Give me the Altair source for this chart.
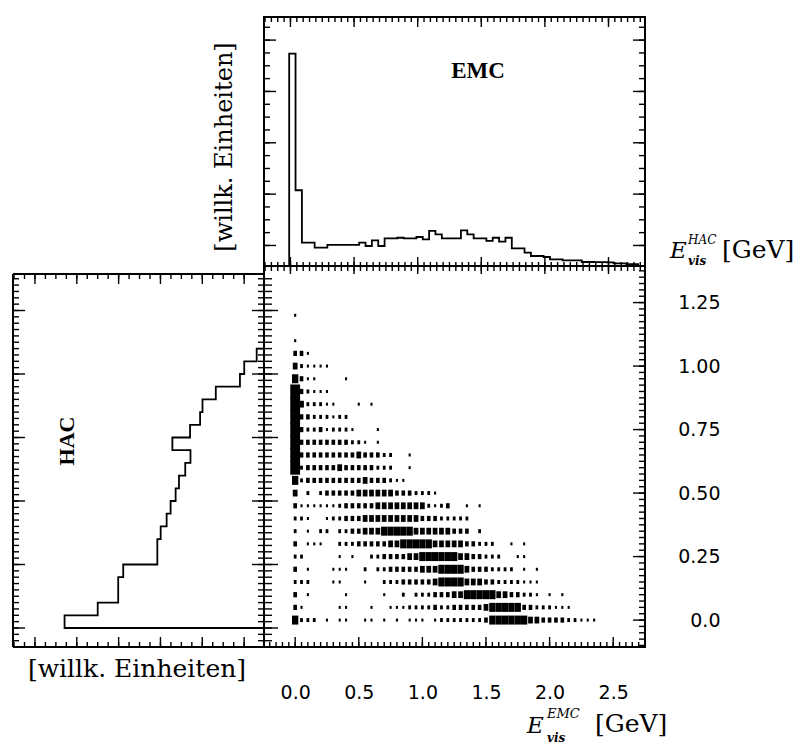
import altair as alt
import pandas as pd

# ---------------- data ----------------
# EMC histogram (top panel): arbitrary units, 0.05 GeV bins, first bin starts at -0.01 GeV
emc_first_edge = -0.01
emc_bin_width = 0.05
emc_counts = [16.55, 5.9, 1.82, 1.82, 1.43, 1.43, 1.64, 1.64, 1.64, 1.64,
              1.64, 1.82, 1.56, 2.0, 1.56, 2.16, 2.16, 2.2, 2.16, 2.16,
              2.26, 2.08, 2.73, 2.47, 2.16, 2.16, 2.16, 2.78, 2.47, 2.16,
              2.16, 1.95, 2.2, 1.9, 2.2, 1.38, 1.38, 1.04, 0.78, 0.78,
              0.7, 0.52, 0.52, 0.44, 0.44, 0.44, 0.31, 0.31, 0.3, 0.3,
              0.28, 0.2, 0.2, 0.15, 0.15]

# HAC histogram (left panel): arbitrary units, 0.05 GeV bins starting at 0
hac_bin_width = 0.05
hac_counts = [19.07, 15.9, 13.94, 13.94, 13.46, 10.2, 10.2, 9.88, 9.31, 8.93,
              8.45, 8.13, 7.53, 7.03, 8.76, 7.07, 6.11, 5.88, 4.61, 2.3, 1.89, 0.7]

# 2D distribution: one string per E_HAC row (0.00, 0.05, ... GeV),
# one character per E_EMC column (0.00, 0.05, ... GeV), digit = box size class
grid_step = 0.05
scatter_rows = [
    "5222010110" "0110101011" "1012222222" "3555555443" "33322111",  # 0.00
    "3100000110" "0010011122" "2232233333" "4555553322" "21110000",  # 0.05
    "3010000010" "0000100202" "2233344555" "5544332210" "10100000",  # 0.10
    "2220001100" "0100222333" "3345555444" "3322221110",             # 0.15
    "3010001110" "0202233333" "4445555433" "3222201010",             # 0.20
    "2200000101" "0022333344" "5555554433" "2220011000",             # 0.25
    "3011100222" "3333344555" "5544444332" "2200101000",             # 0.30
    "2010220223" "3444555554" "4444433302",                          # 0.35
    "2210012233" "3444444444" "3332222200",                          # 0.40
    "3111111233" "3334444444" "4212300101",                          # 0.45
    "4020233333" "4444443332" "221",                                 # 0.50
    "5233333333" "34333211",                                         # 0.55
    "6233333433" "3332220010",                                       # 0.60
    "6333333333" "4333220010",                                       # 0.65
    "6333333332" "2101",                                             # 0.70
    "6322312221" "0001",                                             # 0.75
    "633222122",                                                     # 0.80
    "6422211000" "101",                                              # 0.85
    "632111",                                                        # 0.90
    "531100001",                                                     # 0.95
    "421111",                                                        # 1.00
    "331",                                                           # 1.05
    "1",                                                             # 1.10
    "",                                                              # 1.15
    "1",                                                             # 1.20
]

x_labels = [0.0, 0.5, 1.0, 1.5, 2.0, 2.5]
y_labels = [0.0, 0.25, 0.5, 0.75, 1.0, 1.25]

# ---------------- tables ----------------
def frange(a, b, step):
    n = int(round((b - a) / step))
    return [round(a + i * step, 4) for i in range(n + 1)]

emc_pts = [{"x": emc_first_edge, "c": 0.0, "i": 0}]
for k, c in enumerate(emc_counts):
    emc_pts.append({"x": round(emc_first_edge + k * emc_bin_width, 4), "c": c, "i": k + 1})
emc_pts.append({"x": round(emc_first_edge + len(emc_counts) * emc_bin_width, 4),
                "c": emc_counts[-1], "i": len(emc_counts) + 1})
emc_df = pd.DataFrame(emc_pts)

hac_pts = [{"c": 0.0, "y": 0.0, "i": 0}]
for k, c in enumerate(hac_counts):
    hac_pts.append({"c": c, "y": round(k * hac_bin_width, 4), "i": k + 1})
hac_pts.append({"c": 0.0, "y": round(len(hac_counts) * hac_bin_width, 4), "i": len(hac_counts) + 1})
hac_df = pd.DataFrame(hac_pts)

recs = []
for r, row in enumerate(scatter_rows):
    for col, ch in enumerate(row):
        if ch != "0":
            recs.append({"x": round(col * grid_step, 4), "y": round(r * grid_step, 4), "s": int(ch)})
scat_df = pd.DataFrame(recs)

one = pd.DataFrame({"a": [0]})
BLACK = "black"
TW = 1.4  # tick width

def hticks(values, enc_x, y0, y1, width=TW):
    return alt.Chart(pd.DataFrame({"x": values})).mark_rule(color=BLACK, strokeWidth=width).encode(
        x=enc_x, y=alt.value(y0), y2=alt.value(y1))

def vticks(values, enc_y, x0, x1, width=TW):
    return alt.Chart(pd.DataFrame({"y": values})).mark_rule(color=BLACK, strokeWidth=width).encode(
        y=enc_y, x=alt.value(x0), x2=alt.value(x1))

def label(text, x, y, size, font="DejaVu Serif", style="normal", weight="normal", angle=0,
          align="left", baseline="alphabetic"):
    return alt.Chart(one).mark_text(text=text, font=font, fontSize=size, fontStyle=style,
                                    fontWeight=weight, angle=angle, align=align, baseline=baseline,
                                    color=BLACK).encode(x=alt.value(x), y=alt.value(y))

def seg(x0, y0, x1, y1, width=2):
    return alt.Chart(one).mark_rule(color=BLACK, strokeWidth=width).encode(
        x=alt.value(x0), y=alt.value(y0), x2=alt.value(x1), y2=alt.value(y1))

# ---------------- main panel ----------------
MW, MH = 381, 381
sx_main = alt.Scale(domain=[-0.245, 2.75], nice=False, zero=False)
sy_main = alt.Scale(domain=[-0.106, 1.394], nice=False, zero=False)
x_axis = alt.Axis(values=x_labels, format=".1f", ticks=False, tickSize=0, domain=False, grid=False,
                  labelFont="DejaVu Sans", labelFontSize=19, labelColor=BLACK, labelPadding=36,
                  labelFlush=False, labelOverlap=False, title=None)
y_axis = alt.Axis(orient="right", values=y_labels, ticks=False, tickSize=0, domain=False, grid=False,
                  labelExpr="datum.value == 0 ? '0.0' : format(datum.value, '.2f')",
                  labelFont="DejaVu Sans", labelFontSize=19, labelColor=BLACK, labelPadding=75,
                  labelAlign="right", labelBaseline="middle", labelOverlap=False, labelFlush=False,
                  title=None)
XM = alt.X("x:Q", scale=sx_main, axis=x_axis)
YM = alt.Y("y:Q", scale=sy_main, axis=y_axis)

BOX = "M-0.7,-1H0.7V1H-0.7Z"
scatter = alt.Chart(scat_df).mark_point(shape=BOX, filled=True, color=BLACK, opacity=1, strokeWidth=0).encode(
    x=XM, y=YM,
    size=alt.Size("s:Q", scale=alt.Scale(domain=[1, 2, 3, 4, 5, 6], range=[9, 16, 27, 46, 81, 196]),
                  legend=None),
)

main = alt.layer(
    scatter,
    hticks(frange(-0.2, 2.7, 0.05), XM, MH, MH - 5),
    hticks(x_labels, XM, MH, MH - 10),
    vticks(frange(-0.1, 1.375, 0.025), YM, MW, MW - 6),
    vticks(y_labels, YM, MW, MW - 12),
    # x title: E^EMC_vis [GeV]
    label("E", 263, 467, 23, style="italic"),
    label("EMC", 283, 452, 13, style="italic"),
    label("vis", 283, 476, 12, style="italic", weight="bold"),
    label("[GeV]", 331, 466, 25),
    # y title: E^HAC_vis [GeV]
    label("E", 406, -8, 23, style="italic"),
    label("HAC", 424, -22, 12, style="italic"),
    label("vis", 424, -1, 12, style="italic", weight="bold"),
    label("[GeV]", 458, -8, 25),
).properties(width=MW, height=MH)

# ---------------- top histogram (EMC) ----------------
TWD, THT = 381, 249
XT = alt.X("x:Q", scale=alt.Scale(domain=[-0.208, 2.787], nice=False, zero=False), axis=None)
YT = alt.Y("c:Q", scale=alt.Scale(domain=[0, 19.4], nice=False, zero=False), axis=None)
emc_line = alt.Chart(emc_df).mark_line(interpolate="step-after", color=BLACK, strokeWidth=1.8).encode(
    x=XT, y=YT, order="i:Q")
top_minor = frange(-0.2, 2.75, 0.05)
top_left_ticks = [round(1.6 + k, 3) for k in range(18)]
top_left_major = [round(1.6 + 4 * k, 3) for k in range(5)]

def cticks(values, enc, x0, x1):
    return alt.Chart(pd.DataFrame({"c": values})).mark_rule(color=BLACK, strokeWidth=TW).encode(
        y=enc, x=alt.value(x0), x2=alt.value(x1))

top = alt.layer(
    emc_line,
    hticks(top_minor, XT, 0, 5),
    hticks(x_labels, XT, 0, 10),
    hticks(top_minor, XT, THT - 4, THT + 5),
    hticks(x_labels, XT, THT - 9, THT + 8),
    cticks(top_left_ticks, YT, 0, 6),
    cticks(top_left_major, YT, 0, 12),
    cticks(top_left_ticks, YT, TWD, TWD - 6),
    cticks(top_left_major, YT, TWD, TWD - 12),
    label("EMC", 214, 54, 23, font="Liberation Serif", weight="bold", align="center", baseline="middle"),
    label("[willk. Einheiten]", -39, 130, 24, angle=270, align="center", baseline="middle"),
).properties(width=TWD, height=THT)

# ---------------- left histogram (HAC) ----------------
LW, LH = 251, 381
LTOP = 8  # the left frame starts a little below the main frame
XL = alt.X("c:Q", scale=alt.Scale(domain=[0, 24.0], reverse=True, nice=False, zero=False), axis=None)
YL = alt.Y("y:Q", scale=alt.Scale(domain=[-0.0748, 1.4252], nice=False, zero=False), axis=None)
hac_line = alt.Chart(hac_df).mark_line(interpolate="step-before", color=BLACK, strokeWidth=1.8).encode(
    x=XL, y=YL, order="i:Q")
left_y_minor = frange(-0.075, 1.375, 0.025)
left_c_ticks = [round(1.9 + k, 3) for k in range(23)]
left_c_major = [round(1.9 + 4 * k, 3) for k in range(6)]

def lcticks(values, y0, y1):
    return alt.Chart(pd.DataFrame({"c": values})).mark_rule(color=BLACK, strokeWidth=TW).encode(
        x=XL, y=alt.value(y0), y2=alt.value(y1))

left = alt.layer(
    hac_line,
    seg(0, LTOP, LW, LTOP),
    seg(0, LH, LW, LH),
    seg(0, LTOP, 0, LH),
    seg(LW, 0, LW, LH),
    vticks(left_y_minor, YL, 0, 6),
    vticks(y_labels, YL, 0, 12),
    vticks(left_y_minor, YL, LW - 6, LW + 8),
    vticks(y_labels, YL, LW - 12, LW + 14),
    lcticks(left_c_ticks, LTOP, LTOP + 5),
    lcticks(left_c_major, LTOP, LTOP + 10),
    lcticks(left_c_ticks, LH, LH - 5),
    lcticks(left_c_major, LH, LH - 10),
    label("HAC", 54, 175, 22, font="Liberation Serif", weight="bold", angle=270, align="center",
          baseline="middle"),
    label("[willk. Einheiten]", 124, 403, 25, align="center", baseline="middle"),
).properties(width=LW, height=LH, view=alt.ViewBackground(stroke="transparent", strokeWidth=0))

spacer = alt.Chart(one).mark_point(opacity=0).encode(
    x=alt.X("a:Q", axis=None), y=alt.Y("a:Q", axis=None)
).properties(width=LW, height=THT, view=alt.ViewBackground(stroke="transparent", strokeWidth=0))

chart = alt.concat(spacer, top, left, main, columns=2, spacing=0, bounds="flush").properties(
    padding={"left": 12, "top": 15, "right": 2, "bottom": 2},
    background="white",
).configure_view(stroke=BLACK, strokeWidth=2)

chart.save("out.html", embed_options={"renderer": "svg", "actions": False})
